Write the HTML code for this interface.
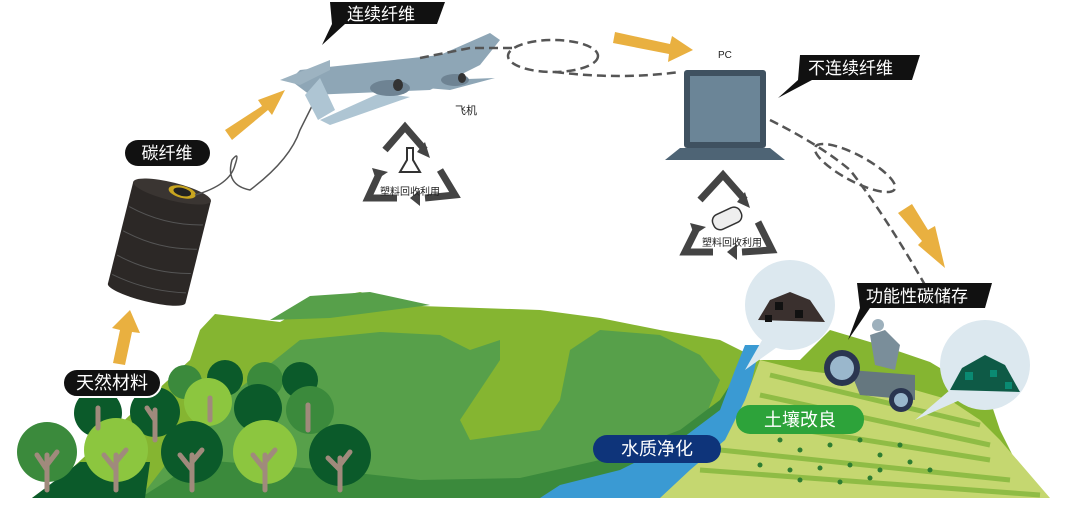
<!DOCTYPE html>
<html><head><meta charset="utf-8"><style>
html,body{margin:0;padding:0;background:#fff;width:1080px;height:531px;overflow:hidden}
text{font-family:"Liberation Sans","Noto Sans CJK SC",sans-serif}
</style></head><body>
<svg width="1080" height="531" viewBox="0 0 1080 531" xmlns="http://www.w3.org/2000/svg">
<!-- hills -->
<path d="M32,498 L70,470 L190,360 L200,330 L215,314 L280,322 L320,300 L360,292 L420,306 L540,310 L600,318 L660,330 L720,340 L760,360 L800,360 L830,330 L880,345 L930,362 L960,380 L990,400 L1000,430 L1020,470 L1030,498 Z" fill="#85b531"/>
<path d="M270,320 L310,296 L370,292 L430,305 L330,318 Z" fill="#57a04a"/>
<path d="M300,340 L380,332 L440,335 L470,350 L500,340 L500,360 L460,420 L470,440 L540,430 L560,400 L570,350 L600,330 L660,335 L700,355 L720,380 L700,430 L640,470 L560,498 L140,498 L200,420 Z" fill="#57a04a"/>
<path d="M140,498 L200,460 L330,470 L420,480 L520,478 L600,460 L680,430 L720,400 L740,370 L745,400 L730,440 L680,480 L640,498 Z" fill="#3b8a3c"/>
<path d="M32,498 L80,462 L150,462 L145,498 Z" fill="#0b5a2a"/>
<!-- river -->
<path d="M540,498 L560,485 L620,470 L680,440 L720,410 L735,370 L745,345 L760,345 L752,380 L740,420 L720,450 L690,475 L660,498 Z" fill="#3a9ad3"/>
<!-- fields -->
<path d="M660,498 L690,470 L725,440 L745,400 L760,360 L800,370 L880,380 L950,400 L980,420 L1000,440 L1050,498 Z" fill="#c5d770"/>
<g stroke="#8fbc45" stroke-width="5" fill="none">
<path d="M700,470 L1040,495"/><path d="M720,450 L1010,480"/><path d="M740,420 L990,460"/><path d="M760,395 L990,445"/><path d="M770,375 L980,425"/>
</g>
<g fill="#2e7d32">
<circle cx="780" cy="440" r="2.5"/><circle cx="800" cy="450" r="2.5"/><circle cx="830" cy="445" r="2.5"/><circle cx="860" cy="440" r="2.5"/><circle cx="880" cy="455" r="2.5"/><circle cx="900" cy="445" r="2.5"/><circle cx="760" cy="465" r="2.5"/><circle cx="790" cy="470" r="2.5"/><circle cx="820" cy="468" r="2.5"/><circle cx="850" cy="465" r="2.5"/><circle cx="880" cy="470" r="2.5"/><circle cx="910" cy="462" r="2.5"/><circle cx="930" cy="470" r="2.5"/><circle cx="800" cy="480" r="2.5"/><circle cx="840" cy="482" r="2.5"/><circle cx="870" cy="478" r="2.5"/>
</g>
<!-- trees -->
<g>
<g fill="#3b8a3c"><circle cx="185" cy="382" r="17"/><circle cx="265" cy="380" r="18"/></g>
<g fill="#0b5a2a"><circle cx="225" cy="378" r="18"/><circle cx="300" cy="380" r="18"/><circle cx="98" cy="413" r="24"/><circle cx="155" cy="412" r="25"/><circle cx="258" cy="408" r="24"/></g>
<g fill="#8cc63f"><circle cx="208" cy="402" r="24"/></g>
<g fill="#3b8a3c"><circle cx="310" cy="410" r="24"/></g>
<g fill="#3b8a3c"><circle cx="47" cy="452" r="30"/></g>
<g fill="#8cc63f"><circle cx="116" cy="450" r="32"/><circle cx="265" cy="452" r="32"/></g>
<g fill="#0b5a2a"><circle cx="192" cy="452" r="31"/><circle cx="340" cy="455" r="31"/></g>
<g stroke="#a08a7c" stroke-width="5" stroke-linecap="round" fill="none">
<path d="M47,490 L47,455 M47,470 L37,455 M47,465 L57,452"/>
<path d="M116,490 L116,455 M116,470 L104,455 M116,462 L126,450"/>
<path d="M192,490 L192,455 M192,470 L180,455 M192,462 L202,450"/>
<path d="M265,490 L265,455 M265,470 L253,455 M265,462 L275,450"/>
<path d="M340,490 L340,458 M340,470 L328,458 M340,465 L350,452"/>
<path d="M155,440 L155,410 M155,420 L147,408"/><path d="M98,428 L98,408"/><path d="M308,430 L308,405"/><path d="M210,420 L210,398"/>
</g>
</g>
<!-- orange arrows -->
<g fill="#e9b040">
<path d="M113,363 L120,330 L112,328 L130,310 L140,333 L132,332 L125,365 Z"/>
<path d="M225,130 L262,106 L258,100 L285,90 L272,115 L268,110 L232,140 Z"/>
<path d="M615,32 L670,44 L672,36 L693,50 L668,62 L669,54 L613,43 Z"/>
<path d="M898,213 L912,204 L928,230 L935,226 L945,268 L918,245 L922,241 Z"/>
</g>
<!-- spool -->
<g transform="rotate(14 160 240)">
<rect x="120" y="190" width="80" height="105" fill="#2c2826"/>
<ellipse cx="160" cy="295" rx="40" ry="8" fill="#2c2826"/>
<ellipse cx="160" cy="190" rx="40" ry="9" fill="#3a3532"/>
<ellipse cx="170" cy="188" rx="14" ry="6" fill="#c8a520"/>
<ellipse cx="170" cy="188" rx="9" ry="4" fill="#222"/>
<g stroke="#555" stroke-width="1" fill="none"><path d="M122,215 Q160,225 198,215"/><path d="M122,240 Q160,250 198,240"/><path d="M122,265 Q160,275 198,265"/><path d="M122,285 Q160,293 198,285"/></g>
</g>
<path d="M195,195 Q230,185 235,165 Q240,150 232,160 Q225,185 250,190 Q290,160 300,130 Q310,110 315,100" stroke="#555" stroke-width="1.5" fill="none"/>
<!-- plane -->
<g>
<path d="M290,80 L300,70 L440,55 L490,33 L500,40 L480,65 L430,90 L310,95 Z" fill="#8ea6b6"/>
<path d="M330,70 L330,60 L280,80 L300,85 Z" fill="#9db3c1"/>
<path d="M390,85 L440,80 L495,78 L450,90 Z" fill="#8ea6b6"/>
<path d="M380,93 L410,97 L330,125 L320,120 Z" fill="#aec5d3"/>
<path d="M305,95 L320,78 L335,110 L318,120 Z" fill="#aec5d3"/>
<ellipse cx="390" cy="88" rx="20" ry="8" fill="#6e8393"/><ellipse cx="398" cy="85" rx="5" ry="6" fill="#333"/>
<ellipse cx="455" cy="80" rx="14" ry="6" fill="#6e8393"/><ellipse cx="462" cy="78" rx="4" ry="5" fill="#333"/>
</g>
<text x="455" y="114" font-size="11" fill="#222">飞机</text>
<!-- dashed path -->
<g stroke="#555" stroke-width="2.5" stroke-dasharray="9,5" fill="none">
<path d="M420,58 L470,48 L515,48"/>
<ellipse cx="553" cy="56" rx="45" ry="16"/>
<path d="M555,72 Q620,80 680,72"/>
<path d="M770,120 Q820,145 850,170 Q885,215 925,285"/>
<ellipse cx="855" cy="168" rx="45" ry="13" transform="rotate(28 855 168)"/>
</g>
<text x="718" y="58" font-size="10" fill="#222">PC</text>
<!-- laptop -->
<rect x="684" y="70" width="82" height="78" rx="3" fill="#3f5160"/>
<rect x="690" y="76" width="70" height="66" fill="#6b8597"/>
<path d="M680,148 L770,148 L785,160 L665,160 Z" fill="#4e6475"/>
<!-- recycle icons -->
<g fill="none" stroke="#444" stroke-width="7">
<path d="M385,150 L405,127 L425,150"/><path d="M440,170 L455,195 L425,198"/><path d="M397,198 L368,198 L380,172"/>
<path d="M700,200 L723,175 L745,200"/><path d="M758,222 L772,250 L742,252"/><path d="M713,252 L685,252 L697,228"/>
</g>
<g fill="#444"><path d="M425,142 L430,158 L417,152 Z"/><path d="M420,190 L420,206 L410,198 Z"/><path d="M372,168 L388,172 L376,180 Z"/>
<path d="M745,192 L750,208 L737,202 Z"/><path d="M737,244 L737,260 L727,252 Z"/><path d="M690,223 L706,227 L694,235 Z"/></g>
<path d="M407,148 L407,160 L400,172 L420,172 L413,160 L413,148 Z" fill="none" stroke="#333" stroke-width="2"/>
<g transform="rotate(-25 728 218)"><rect x="712" y="210" width="30" height="16" rx="7" fill="#eee" stroke="#333" stroke-width="1.5"/></g>
<text x="410" y="195" font-size="10" fill="#222" text-anchor="middle">塑料回收利用</text>
<text x="732" y="246" font-size="10" fill="#222" text-anchor="middle">塑料回收利用</text>
<!-- bubbles -->
<circle cx="790" cy="305" r="45" fill="#dce8ef"/>
<path d="M765,335 L745,370 L780,345 Z" fill="#dce8ef"/>
<path d="M758,320 L770,300 L790,292 L810,300 L825,322 Z" fill="#3a302e"/>
<g fill="#111"><rect x="775" y="302" width="8" height="8"/><rect x="795" y="310" width="8" height="8"/><rect x="765" y="315" width="7" height="7"/></g>
<circle cx="985" cy="365" r="45" fill="#dce8ef"/>
<path d="M950,390 L915,420 L960,400 Z" fill="#dce8ef"/>
<path d="M950,390 L962,368 L985,355 L1005,365 L1020,392 Z" fill="#0e5a46"/>
<g fill="#0a8a72"><rect x="965" y="372" width="8" height="8"/><rect x="990" y="370" width="7" height="7"/><rect x="1005" y="382" width="7" height="7"/></g>
<!-- tractor -->
<path d="M870,335 L885,330 L900,345 L895,370 L875,365 Z" fill="#7a8e9a"/>
<circle cx="878" cy="325" r="6" fill="#9db0bc"/>
<path d="M850,370 L915,375 L915,400 L860,395 Z" fill="#65777f"/>
<circle cx="842" cy="368" r="18" fill="#2a3550"/><circle cx="842" cy="368" r="12" fill="#9ab7cc"/>
<circle cx="901" cy="400" r="12" fill="#2a3550"/><circle cx="901" cy="400" r="7" fill="#9ab7cc"/>
<!-- labels -->
<g fill="#111">
<path d="M330,2 L445,2 L437,24 L345,24 L322,45 L332,24 Z"/>
<path d="M800,55 L920,55 L912,80 L812,80 L778,98 L798,80 Z"/>
<path d="M857,283 L992,283 L985,308 L870,308 L848,340 L860,308 Z"/>
<rect x="125" y="140" width="85" height="26" rx="13"/>
<rect x="63" y="369" width="98" height="28" rx="14" stroke="#fff" stroke-width="2"/>
</g>
<rect x="593" y="435" width="128" height="28" rx="14" fill="#0e347a"/>
<rect x="736" y="405" width="128" height="29" rx="14" fill="#2da33a"/>
<g fill="#fff" font-size="17">
<text x="347" y="20">连续纤维</text>
<text x="808" y="74">不连续纤维</text>
<text x="866" y="302">功能性碳储存</text>
<text x="167" y="159" text-anchor="middle">碳纤维</text>
<text x="112" y="389" text-anchor="middle" font-size="18">天然材料</text>
<text x="657" y="455" text-anchor="middle" font-size="18">水质净化</text>
<text x="800" y="426" text-anchor="middle" font-size="18">土壤改良</text>
</g>
</svg>
</body></html>
